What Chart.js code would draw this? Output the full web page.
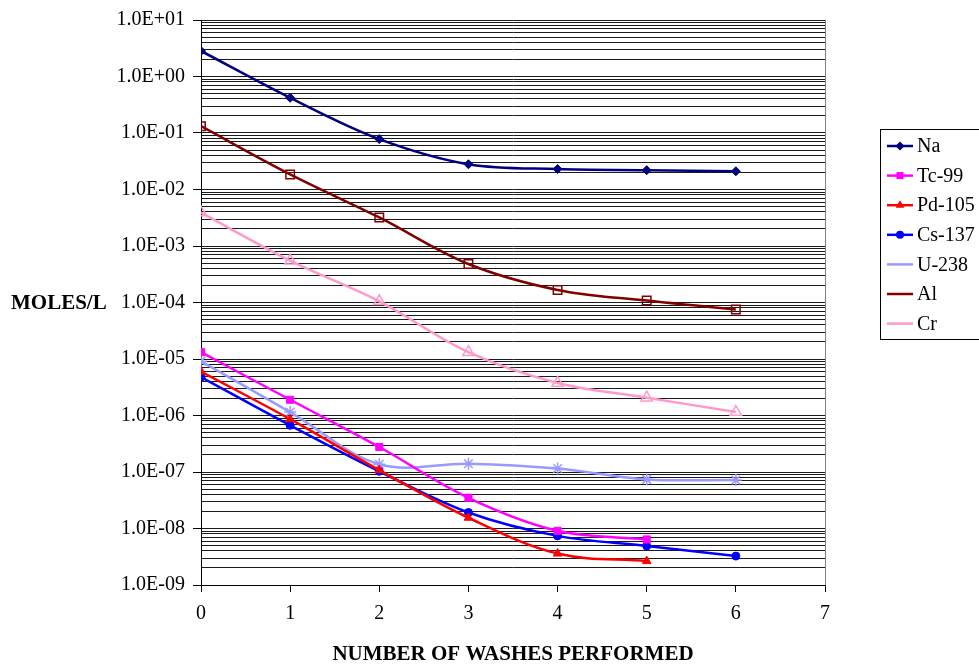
<!DOCTYPE html>
<html>
<head>
<meta charset="utf-8">
<script src="https://cdn.jsdelivr.net/npm/chart.js@4.4.1/dist/chart.umd.min.js"></script>
<style>
html,body{margin:0;padding:0;background:#fff;}
canvas{display:block;}
</style>
</head>
<body>
<canvas id="c" width="979" height="664"></canvas>
<script>
// ---- Data ----
const washes = [0, 1, 2, 3, 4, 5, 6];
const seriesNames = ["Na", "Tc-99", "Pd-105", "Cs-137", "U-238", "Al", "Cr"];
const na    = [2.83, 0.42, 0.078, 0.028, 0.023, 0.022, 0.021];
const tc99  = [1.32e-5, 1.9e-6, 2.77e-7, 3.5e-8, 9.1e-9, 6.4e-9];
const pd105 = [6.0e-6, 8.6e-7, 1.08e-7, 1.55e-8, 3.6e-9, 2.65e-9];
const cs137 = [4.8e-6, 6.7e-7, 1.03e-7, 1.92e-8, 7.4e-9, 4.9e-9, 3.25e-9];
const u238  = [9.1e-6, 1.15e-6, 1.37e-7, 1.4e-7, 1.15e-7, 7.4e-8, 7.2e-8];
const al    = [0.132, 0.0185, 0.0032, 4.8e-4, 1.67e-4, 1.08e-4, 7.5e-5];
const cr    = [3.9e-3, 5.5e-4, 1.05e-4, 1.32e-5, 3.76e-6, 2.07e-6, 1.15e-6];
const xTicks = [0, 1, 2, 3, 4, 5, 6, 7];
const yDecades = [-9, -8, -7, -6, -5, -4, -3, -2, -1, 0, 1];
const yTitle = "MOLES/L";
const xTitle = "NUMBER OF WASHES PERFORMED";

const FONT = "'Liberation Serif', 'Times New Roman', serif";

function pts(arr) { return arr.map((v, i) => ({ x: washes[i], y: v })); }

const styles = [
  { color: "#000080", pointStyle: "rectRot", radius: 4.5, fill: "#000080", bw: 1 },
  { color: "#FF00FF", pointStyle: "rect", radius: 5, fill: "#FF00FF", bw: 1 },
  { color: "#FF0000", pointStyle: "triangle", radius: 5, fill: "#FF0000", bw: 1 },
  { color: "#0000FF", pointStyle: "circle", radius: 4, fill: "#0000FF", bw: 1 },
  { color: "#9999FF", pointStyle: "star", radius: 6, fill: "#9999FF", bw: 1.5 },
  { color: "#800000", pointStyle: "rect", radius: 6, fill: "rgba(0,0,0,0)", bw: 1.5 },
  { color: "#FF99CC", pointStyle: "triangle", radius: 6.5, fill: "rgba(0,0,0,0)", bw: 1.5 }
];
const seriesData = [na, tc99, pd105, cs137, u238, al, cr];

const datasets = seriesData.map((d, i) => ({
  label: seriesNames[i],
  data: pts(d),
  borderColor: styles[i].color,
  backgroundColor: styles[i].color,
  borderWidth: 2.5,
  tension: 0.35,
  pointStyle: styles[i].pointStyle,
  pointRadius: styles[i].radius,
  pointBackgroundColor: styles[i].fill,
  pointBorderColor: styles[i].color,
  pointBorderWidth: styles[i].bw,
  fill: false
}));

function isMajor(v) {
  const l = Math.log10(v);
  return Math.abs(l - Math.round(l)) < 1e-9;
}
function fmtExp(v) {
  const e = Math.round(Math.log10(v));
  return "1.0E" + (e >= 0 ? "+" : "-") + String(Math.abs(e)).padStart(2, "0");
}

const decorPlugin = {
  id: "decor",
  afterDraw(chart) {
    const ctx = chart.ctx;
    const ca = chart.chartArea;
    ctx.save();
    // right border of plot area
    ctx.strokeStyle = "#808080";
    ctx.lineWidth = 1;
    ctx.beginPath();
    ctx.moveTo(Math.round(ca.right) + 0.5, ca.top);
    ctx.lineTo(Math.round(ca.right) + 0.5, ca.bottom);
    ctx.stroke();

    // axis titles
    ctx.fillStyle = "#000";
    ctx.font = "bold 21px " + FONT;
    ctx.textAlign = "center";
    ctx.textBaseline = "middle";
    ctx.fillText(xTitle, (ca.left + ca.right) / 2, 655);
    ctx.textAlign = "left";
    const yS = chart.scales.y;
    ctx.fillText(yTitle, 11, yS.getPixelForValue(1e-4) + 1);

    // legend (box runs off the right edge, as in the reference)
    const lx = 880.5, ly = 129.5, lw = 104, lh = 210;
    ctx.strokeStyle = "#000";
    ctx.lineWidth = 1;
    ctx.strokeRect(lx, ly, lw, lh);
    ctx.font = "20px " + FONT;
    ctx.textBaseline = "middle";
    chart.data.datasets.forEach((ds, i) => {
      const y = 146 + i * 29.6;
      ctx.strokeStyle = ds.borderColor;
      ctx.lineWidth = 2.5;
      ctx.beginPath();
      ctx.moveTo(887, y);
      ctx.lineTo(913, y);
      ctx.stroke();
      ctx.fillStyle = ds.pointBackgroundColor;
      ctx.strokeStyle = ds.pointBorderColor;
      ctx.lineWidth = ds.pointBorderWidth;
      Chart.helpers.drawPoint(ctx, { pointStyle: ds.pointStyle, radius: ds.pointRadius, rotation: 0 }, 900, y);
      ctx.fillStyle = "#000";
      ctx.fillText(ds.label, 917, y + 1);
    });
    ctx.restore();
  }
};

new Chart(document.getElementById("c"), {
  type: "line",
  data: { datasets },
  plugins: [decorPlugin],
  options: {
    responsive: false,
    devicePixelRatio: 1,
    animation: false,
    layout: { padding: { left: 0, right: 154, top: 19, bottom: 0 } },
    plugins: { legend: { display: false }, tooltip: { enabled: false } },
    scales: {
      x: {
        type: "linear",
        min: 0, max: 7,
        afterBuildTicks(s) { s.ticks = xTicks.map(v => ({ value: v })); },
        afterFit(s) { s.height = 79; },
        ticks: { color: "#000", font: { family: FONT, size: 20 }, padding: 10, autoSkip: false, maxRotation: 0 },
        grid: { drawOnChartArea: false, drawTicks: true, tickLength: 7, color: "#000" },
        border: { color: "#000", width: 1 }
      },
      y: {
        type: "logarithmic",
        min: 1e-9, max: 10,
        afterBuildTicks(s) {
          const t = [];
          yDecades.forEach(e => {
            const mMax = e === yDecades[yDecades.length - 1] ? 1 : 9;
            for (let m = 1; m <= mMax; m++) t.push({ value: m * Math.pow(10, e) });
          });
          s.ticks = t;
        },
        afterFit(s) { s.width = 201; },
        ticks: {
          color: "#000",
          font: { family: FONT, size: 20 },
          padding: 8,
          autoSkip: false,
          callback: (v) => isMajor(v) ? fmtExp(v) : ""
        },
        grid: {
          color: "#1a1a1a",
          lineWidth: 1,
          tickLength: 8,
          tickColor: (c) => (c.tick && isMajor(c.tick.value)) ? "#000" : "rgba(0,0,0,0)"
        },
        border: { color: "#000", width: 1 }
      }
    }
  }
});
</script>
</body>
</html>
